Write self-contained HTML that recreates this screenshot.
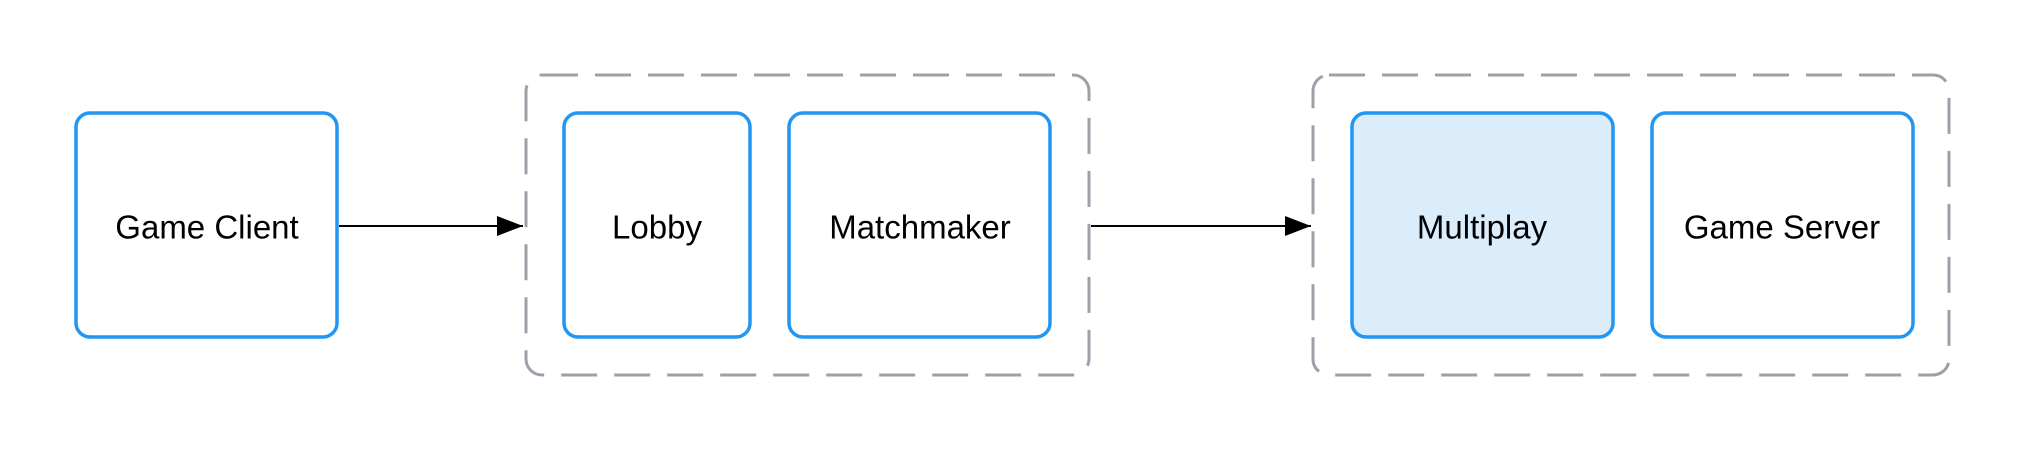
<!DOCTYPE html>
<html><head><meta charset="utf-8"><style>
html,body{margin:0;padding:0;background:#fff;}
svg{display:block}
text{font-family:"Liberation Sans",sans-serif;font-size:33px;fill:#000;text-anchor:middle;dominant-baseline:central}
</style></head><body>
<svg width="2025" height="450" viewBox="0 0 2025 450" xmlns="http://www.w3.org/2000/svg">
<defs><marker id="a" markerWidth="26" markerHeight="20" refX="26" refY="10" orient="auto" markerUnits="userSpaceOnUse" viewBox="0 0 26 20"><path d="M0,0L26,10L0,20z" fill="#000"/></marker></defs>
<g fill="none" stroke="#9ca0a8" stroke-width="3" stroke-dasharray="36 17">
<rect x="526" y="75" width="563" height="300" rx="16"/>
<rect x="1313" y="75" width="636" height="300" rx="16"/>
</g>
<g stroke="#2196f3" stroke-width="3.5" fill="#fff">
<rect x="76" y="113" width="261" height="224" rx="14"/>
<rect x="564" y="113" width="186" height="224" rx="14"/>
<rect x="789" y="113" width="261" height="224" rx="14"/>
<rect x="1352" y="113" width="261" height="224" rx="14" fill="#dbecfb"/>
<rect x="1652" y="113" width="261" height="224" rx="14"/>
</g>
<g stroke="#000" stroke-width="2">
<line x1="339" y1="226" x2="523" y2="226" marker-end="url(#a)"/>
<line x1="1091" y1="226" x2="1311" y2="226" marker-end="url(#a)"/>
</g>
<text x="207" y="227">Game Client</text>
<text x="657" y="227">Lobby</text>
<text x="920" y="227">Matchmaker</text>
<text x="1482" y="227">Multiplay</text>
<text x="1782" y="227">Game Server</text>
</svg>
</body></html>
